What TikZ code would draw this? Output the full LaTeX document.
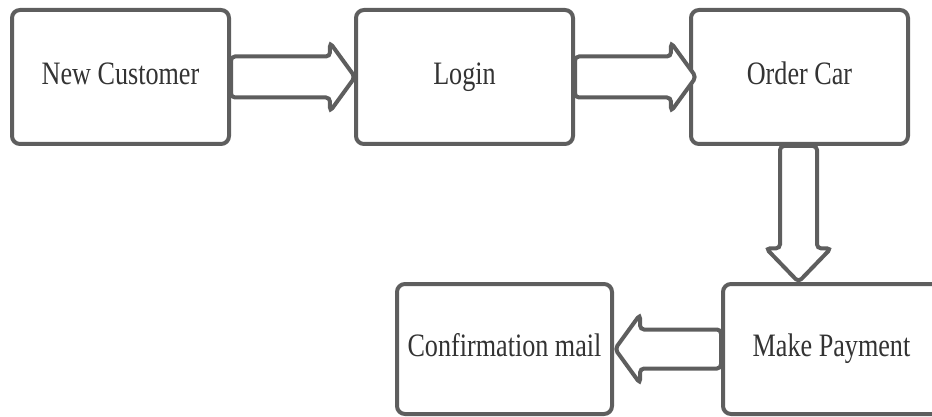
\documentclass[tikz,border=0pt]{standalone}
\usepackage{fontspec}
\setmainfont[FakeStretch=0.8]{Liberation Serif}
\usetikzlibrary{shapes.arrows,positioning,calc}
\definecolor{edgegray}{HTML}{5E5E5E}
\definecolor{textgray}{HTML}{333333}

\begin{document}
\begin{tikzpicture}[
    x=1pt, y=1pt,
    stagebox/.style={rectangle, draw=edgegray, line width=4pt, rounded corners=8pt, fill=white, minimum width=217pt, minimum height=134pt, text=textgray, text height=22pt, text depth=7pt, font=\fontsize{32.7}{36}\selectfont},
    fatarrow/.style={single arrow, draw=edgegray, line width=4pt, rounded corners=4pt, fill=white, inner xsep=0pt, inner ysep=18.5pt, outer sep=0pt, single arrow head extend=14pt, single arrow tip angle=108, anchor=tail}
]

\useasboundingbox (0,0) rectangle (932,-417);

\node[stagebox] (newcust) at (120.5,-77) {New Customer};
\node[stagebox, right=123pt of newcust] (login) {Login};
\node[stagebox, right=114pt of login] (order) {Order Car};
\node[stagebox, minimum height=130pt, below=136pt of order, xshift=32pt] (payment) {Make Payment};
\node[stagebox, minimum width=215pt, minimum height=130pt, left=107pt of payment] (mail) {Confirmation mail};

\node[fatarrow, minimum height=124pt] (arr1) at (newcust.east) {};
\node[fatarrow, minimum height=121pt] (arr2) at (login.east) {};
\node[fatarrow, rotate=-90, inner ysep=16.5pt, single arrow tip angle=88, minimum height=136pt] (arr3) at ($(order.south)+(-1,0)$) {};
\node[fatarrow, rotate=180, inner ysep=17.5pt, single arrow head extend=15pt, minimum height=106pt] (arr4) at (payment.west) {};

\end{tikzpicture}
\end{document}
